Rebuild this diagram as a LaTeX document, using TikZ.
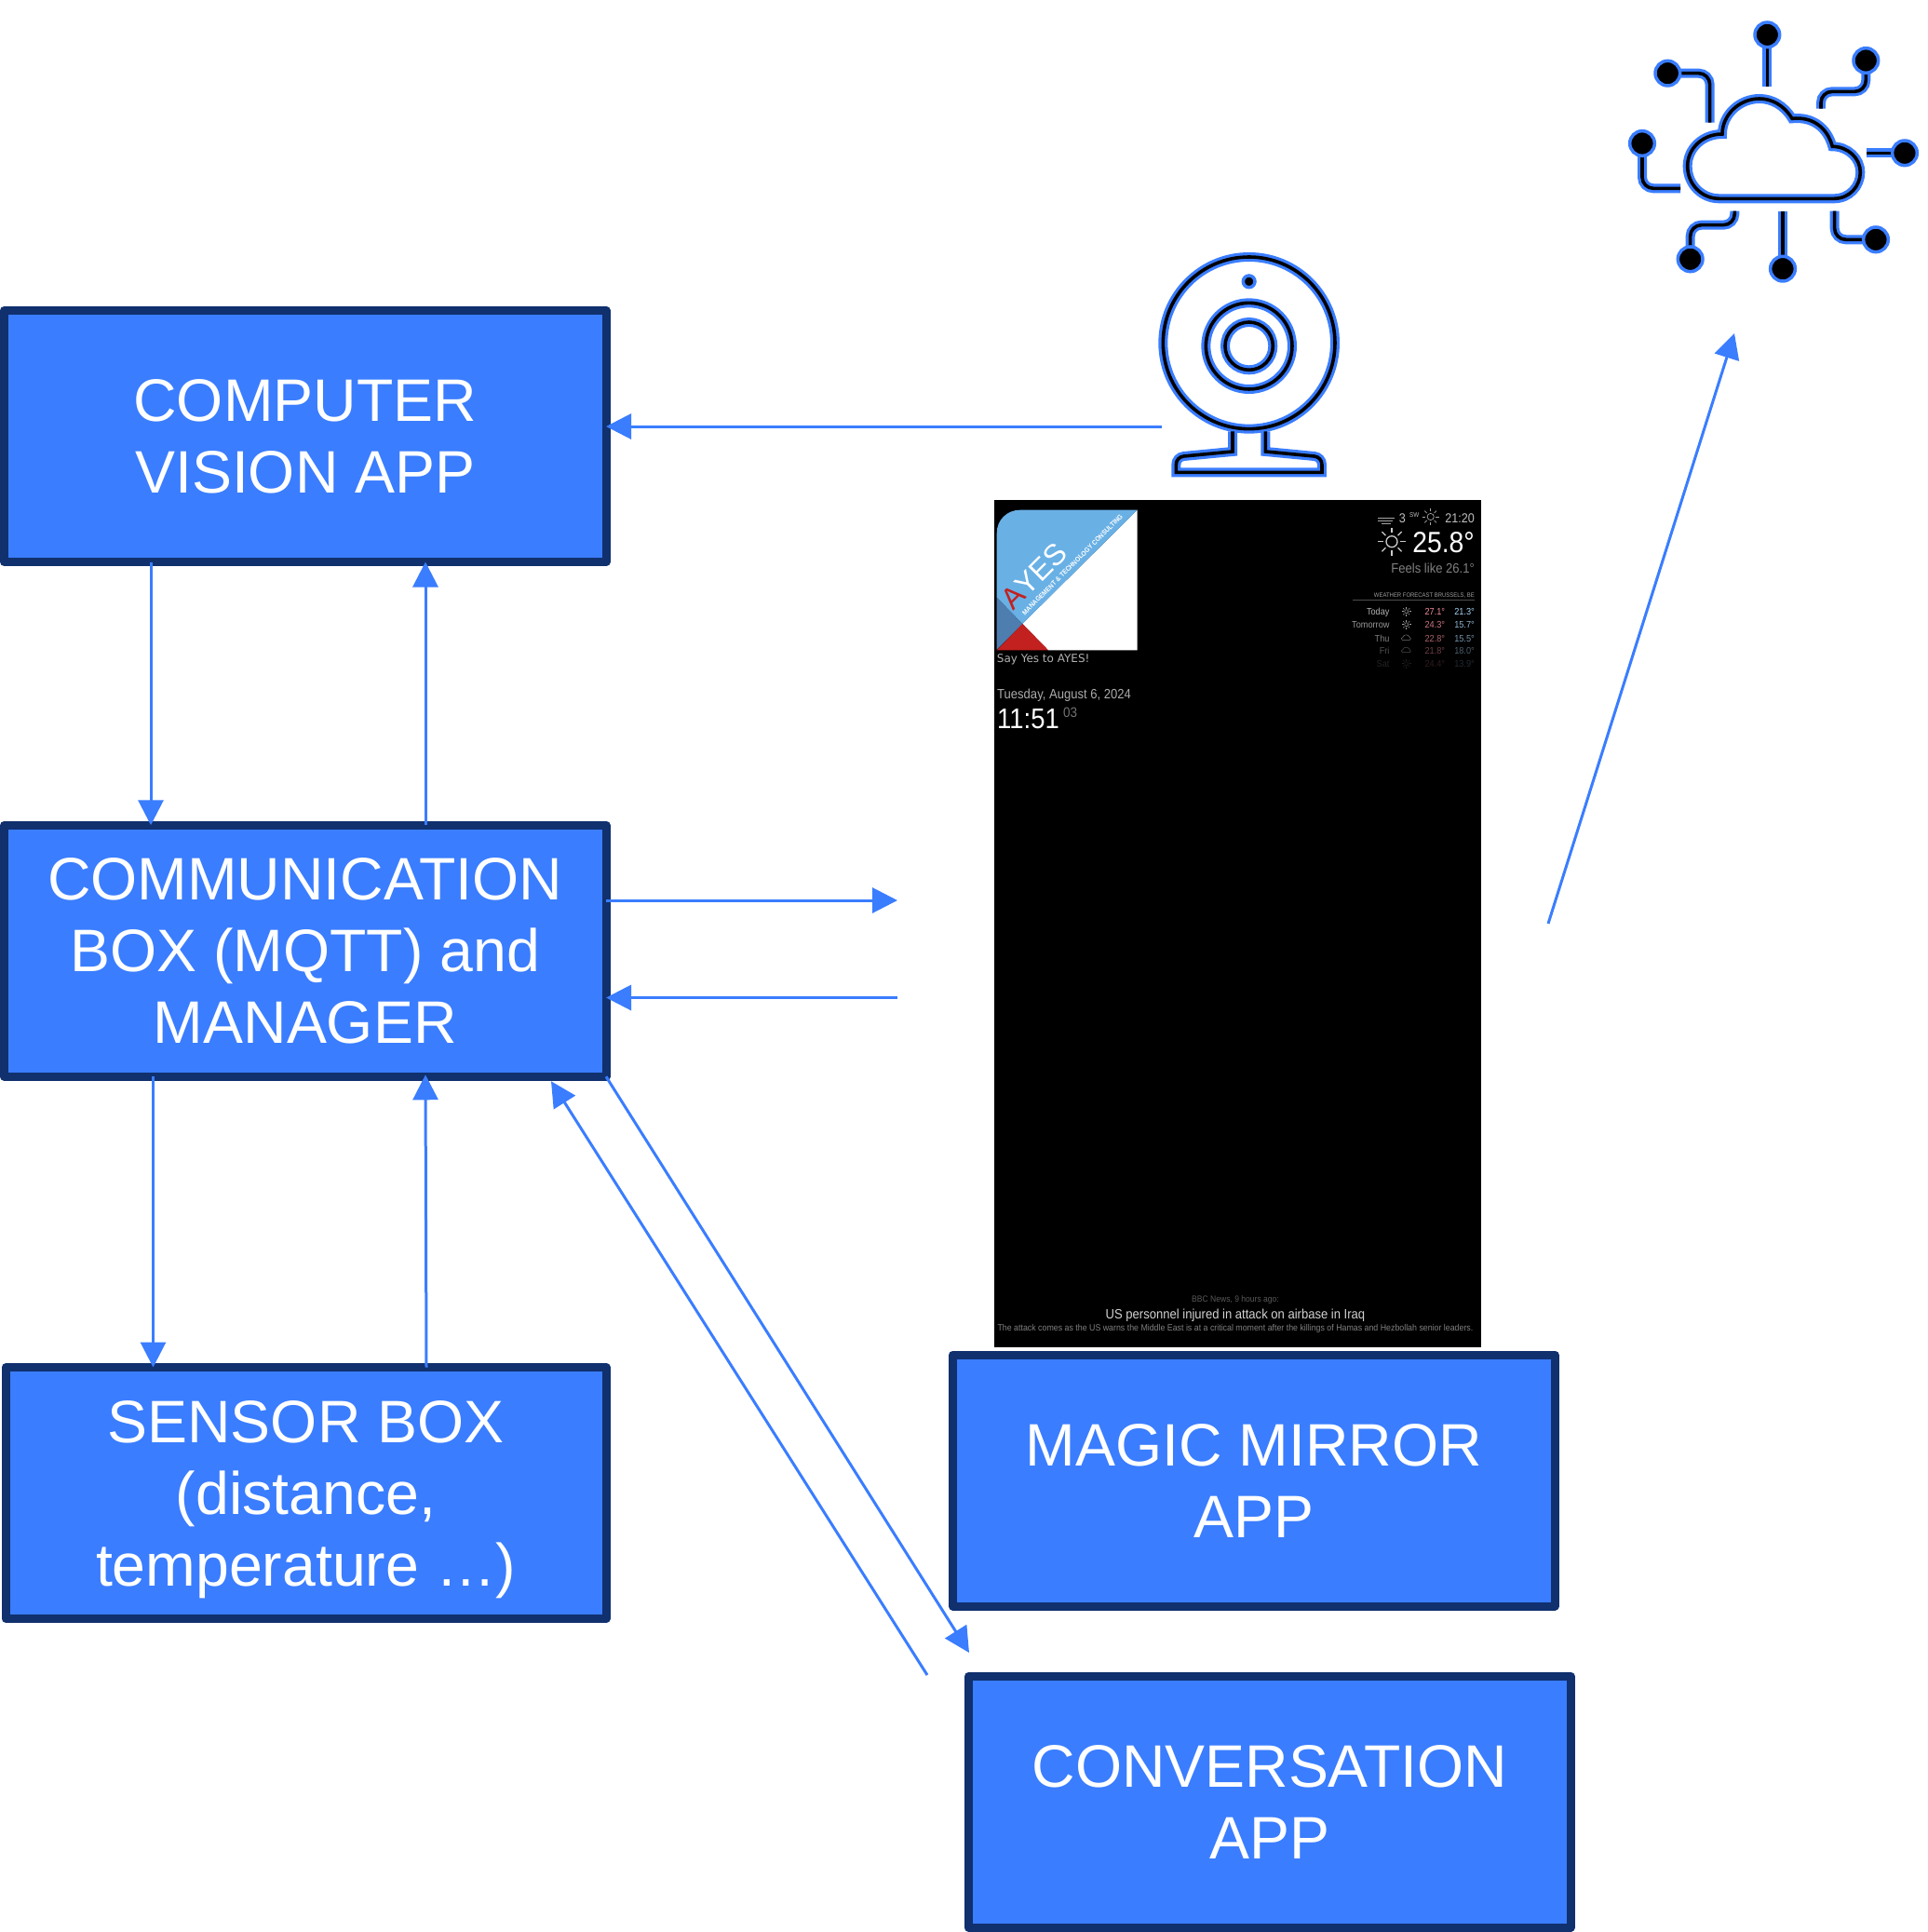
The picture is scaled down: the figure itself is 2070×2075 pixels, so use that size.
\documentclass[tikz,border=0pt]{standalone}
\usepackage{fontspec}
\usepackage{xcolor}
\usetikzlibrary{arrows.meta,calc}
\setmainfont{Liberation Sans}
\newfontfamily\screenfont[FakeStretch=0.9]{Liberation Sans}
\newfontfamily\wideface{DejaVu Sans}
\newcommand{\scrsize}[1]{\screenfont\fontsize{#1}{#1}\selectfont}
\definecolor{boxblue}{HTML}{3A7DFF}
\definecolor{boxedge}{HTML}{10306E}
\definecolor{logosky}{HTML}{69B0E5}
\definecolor{logosteel}{HTML}{4E7DB0}
\definecolor{logored}{HTML}{C2211F}
\definecolor{warmtemp}{HTML}{F08A9A}
\definecolor{coldtemp}{HTML}{A8D4F5}
\tikzset{
  appbox/.style={draw=boxedge,fill=boxblue,line width=9pt,line join=round,text=white,
    minimum width=646.5pt,minimum height=270pt,inner sep=0pt,outer sep=0pt,align=center,
    font=\fontsize{64.4}{77}\selectfont},
  flow/.style={boxblue,line width=3pt,-{Triangle[length=27pt,width=27pt]}},
  iconline/.style={draw=boxblue,double=black,double distance=3.6pt,line width=3.2pt},
  icondot/.style={fill=black,draw=boxblue,line width=3.5pt},
  sunicon/.pic={
    \draw (0,0) circle (.4);
    \foreach \a in {0,45,...,315} \draw (\a:.62) -- (\a:1);
  },
  cloudicon/.pic={
    \draw (-1,.5) to[out=180,in=180,looseness=1.4] (-.8,-.2) to[out=90,in=180] (0,-.7)
      to[out=0,in=120] (.8,-.1) to[out=0,in=0,looseness=1.4] (.8,.5) -- cycle;
  }
}
\begin{document}
\begin{tikzpicture}[x=1pt,y=-1pt]
  \useasboundingbox (0,0) rectangle (2070,2075);

  % Draw the mirror screen
  \fill[black] (1068,537) rectangle (1591,1447);
  \fill[white] (1221.7,547.7) -- (1221.7,698.3) -- (1126,698.3) -- (1098.3,670) -- cycle;
  \fill[logosky] (1221.7,547.7) -- (1098.3,670) -- (1070.7,641.7) -- (1070.7,572.7)
    .. controls (1070.7,558) and (1082,547.7) .. (1095.7,547.7) -- cycle;
  \fill[logosteel] (1070.7,641.7) -- (1098.3,670) -- (1070.7,697.7) -- cycle;
  \fill[logored] (1070.7,698.3) -- (1098.3,670) -- (1126,698.3) -- cycle;
  \node[rotate=45,inner sep=0pt,white,font=\fontsize{32}{32}\selectfont] (logoname) at (1111,619) {\textcolor{logored}{A}YES};
  \node[rotate=45,inner sep=0pt,white,font=\bfseries\scrsize{7.4}] (logosub) at (1152,606.5) {MANAGEMENT \& TECHNOLOGY CONSULTING};
  \node[anchor=base west,inner sep=0pt,text=gray!60,font=\wideface\fontsize{12}{12}\selectfont] (saytext) at (1070.7,711) {Say Yes to AYES!};
  \node[anchor=base west,inner sep=0pt,text=gray!65,font=\scrsize{14.5}] (datetext) at (1071,750.7) {Tuesday, August 6, 2024};
  \node[anchor=base west,inner sep=0pt,white,font=\scrsize{30.5}] (timetext) at (1071,782) {11:51};
  \node[anchor=base west,inner sep=0pt,text=black!55,font=\scrsize{15}] (sectext) at (1142,770.7) {03};

  % Weather
  \draw[gray!70,line width=.7pt] (1480,556) -- (1498,556) (1480,559) -- (1496,559) (1484,562) -- (1494,562);
  \node[anchor=base east,inner sep=0pt,text=gray!50,font=\scrsize{14}] (windtext) at (1510,561.7) {3};
  \node[anchor=base west,inner sep=0pt,text=gray!50,font=\scrsize{7}] (winddir) at (1514,555) {SW};
  \pic[gray!70,line width=.7pt,scale=9] at (1536.7,555) {sunicon};
  \node[anchor=base east,inner sep=0pt,text=gray!50,font=\scrsize{14}] (settext) at (1584,561.7) {21:20};
  \pic[white!80!black,line width=1.3pt,scale=15] at (1495,581.7) {sunicon};
  \node[anchor=base east,inner sep=0pt,white,font=\scrsize{31.5}] (temptext) at (1584,593.3) {25.8°};
  \node[anchor=base east,inner sep=0pt,text=gray,font=\scrsize{14.5}] (feeltext) at (1584,615) {Feels like 26.1°};
  \node[anchor=base east,inner sep=0pt,text=gray!75,font=\scrsize{6.6}] (foretext) at (1584,641) {WEATHER FORECAST BRUSSELS, BE};
  \draw[black!70,line width=.7pt] (1453,644.3) -- (1584,644.3);
  \foreach \dayname/\hival/\loval/\rowy/\fade in {Today/27.1/21.3/660.7/1,Tomorrow/24.3/15.7/674.7/.85,Thu/22.8/15.5/689/.7,Fri/21.8/18.0/702.3/.45,Sat/24.4/13.9/716.7/.2}{
    \node[anchor=base east,inner sep=0pt,text=gray!60,text opacity=\fade,font=\scrsize{10.2}] (day\dayname) at (1492.7,\rowy) {\dayname};
    \node[anchor=base east,inner sep=0pt,text=warmtemp,text opacity=\fade,font=\scrsize{10.2}] (hi\dayname) at (1552.3,\rowy) {\hival°};
    \node[anchor=base east,inner sep=0pt,text=coldtemp,text opacity=\fade,font=\scrsize{10.2}] (lo\dayname) at (1584,\rowy) {\loval°};
  }
  \pic[gray!70,line width=.5pt,scale=5] at (1510.7,656.7) {sunicon};
  \pic[gray!70,line width=.5pt,scale=5] at (1510.7,670.7) {sunicon};
  \pic[gray!70,opacity=.7,line width=.5pt,scale=4.5] at (1510.7,685) {cloudicon};
  \pic[gray!70,opacity=.45,line width=.5pt,scale=4.5] at (1510.7,698.3) {cloudicon};
  \pic[gray!70,opacity=.2,line width=.5pt,scale=5] at (1510.7,712.7) {sunicon};

  % News
  \node[anchor=base,inner sep=0pt,text=black!65,font=\scrsize{9.5}] (newssrc) at (1327,1398) {BBC News, 9 hours ago:};
  \node[anchor=base,inner sep=0pt,text=gray!35,font=\scrsize{14.5}] (newshead) at (1327,1416) {US personnel injured in attack on airbase in Iraq};
  \node[anchor=base,inner sep=0pt,text=gray,font=\scrsize{9.8}] (newsbody) at (1327,1429) {The attack comes as the US warns the Middle East is at a critical moment after the killings of Hamas and Hezbollah senior leaders.};

  % Draw the boxes
  \node[appbox] (cv) at (327.75,468.5) {COMPUTER\\VISION APP};
  \node[appbox] (comm) at (327.75,1021.25) {COMMUNICATION\\BOX (MQTT) and\\MANAGER};
  \node[appbox,minimum width=645pt] (sensor) at (328.5,1603.5) {SENSOR BOX\\(distance,\\\smash{temperature …)}};
  \node[appbox] (magic) at (1346.75,1590) {MAGIC MIRROR\\APP};
  \node[appbox] (conv) at (1363.75,1935.25) {CONVERSATION\\APP};

  % Free ends of the arrows
  \coordinate (camout) at (1248,458);
  \coordinate (mirrorin) at (964,967);
  \coordinate (mirrorout) at (964,1071.5);
  \coordinate (convtip) at (1041,1775);
  \coordinate (convout) at (996,1799);
  \coordinate (mirrorup) at (1663,992);
  \coordinate (cloudtip) at (1863,358);

  % Draw the arrows
  \draw[flow] (camout) -- (camout -| cv.east);
  \draw[flow] ([xshift=157.5pt]cv.south west) -- ([xshift=157.5pt]comm.north west);
  \draw[flow] ([xshift=452.5pt]comm.north west) -- ([xshift=452.5pt]cv.south west);
  \draw[flow] ([xshift=160pt]comm.south west) -- ([xshift=158.5pt]sensor.north west);
  \draw[flow] ([xshift=452pt]sensor.north west) -- ([xshift=452.5pt,yshift=2pt]comm.south west);
  \draw[flow] (mirrorin -| comm.east) -- (mirrorin);
  \draw[flow] (mirrorout) -- (mirrorout -| comm.east);
  \draw[flow] (comm.south east) -- (convtip);
  \draw[flow] (convout) -- ([xshift=-59pt,yshift=-5pt]comm.south east);
  \draw[flow] (mirrorup) -- (cloudtip);

  % Draw the webcam
  \begin{scope}[shift={(1200,250)},x=.3333pt,y=-.3333pt]
    \draw[iconline] (425,355) circle (277);
    \draw[iconline] (425,365) circle (139);
    \draw[iconline] (425,365) circle (77);
    \filldraw[icondot] (425,157) circle (19);
    \draw[iconline] (372,640) -- (372,705) -- (215,720) .. controls (200,722) and (190,732) .. (190,748)
      -- (190,772) -- (660,772) -- (660,748) .. controls (660,732) and (650,722) .. (635,720) -- (478,705) -- (478,640);
  \end{scope}

  % Draw the cloud
  \begin{scope}[shift={(1720,0)},x=.3333pt,y=-.3333pt]
    \draw[iconline] (380,640) -- (750,640) .. controls (800,640) and (835,600) .. (835,555)
      .. controls (835,510) and (795,472) .. (745,472)
      .. controls (728,410) and (680,375) .. (615,382)
      .. controls (590,340) and (550,318) .. (510,318)
      .. controls (445,318) and (390,370) .. (390,432)
      .. controls (325,432) and (278,480) .. (278,535)
      .. controls (278,595) and (325,640) .. (380,640) -- cycle;
    \draw[iconline] (535,112) -- (535,280);
    \draw[iconline,rounded corners=12pt] (853,195) -- (853,295) -- (708,295) -- (708,350);
    \draw[iconline] (978,493) -- (855,493);
    \draw[iconline,rounded corners=12pt] (885,772) -- (752,772) -- (752,680);
    \draw[iconline] (585,866) -- (585,680);
    \draw[iconline,rounded corners=12pt] (287,835) -- (287,725) -- (430,725) -- (430,680);
    \draw[iconline,rounded corners=12pt] (132,462) -- (132,607) -- (255,607);
    \draw[iconline,rounded corners=12pt] (214,236) -- (350,236) -- (350,395);
    \foreach \dotx/\doty in {535/112,853/195,978/493,885/772,585/866,287/835,132/462,214/236}
      \filldraw[icondot] (\dotx,\doty) circle (40);
  \end{scope}
\end{tikzpicture}
\end{document}
